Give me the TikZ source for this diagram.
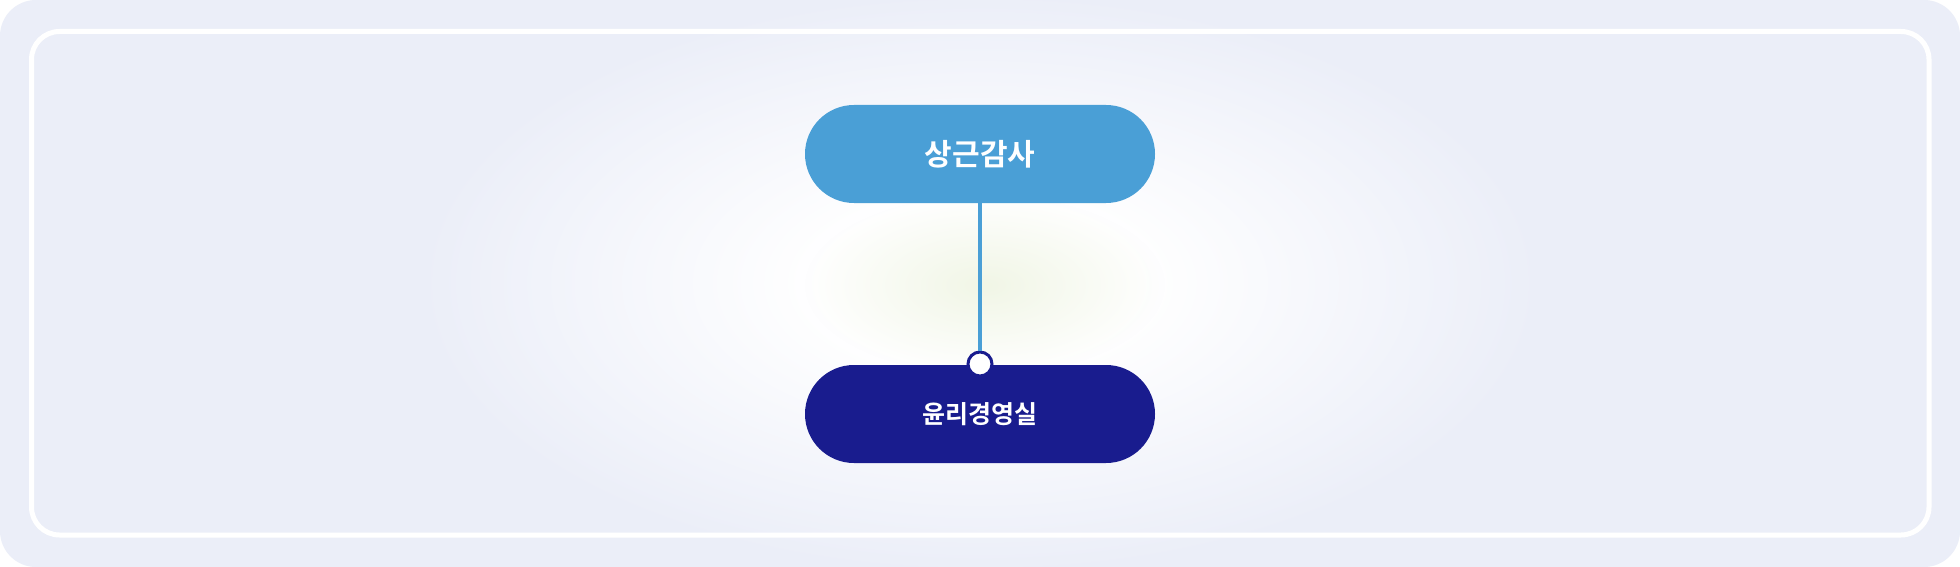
\documentclass[tikz,border=0pt]{standalone}
\usepackage{fontspec}
\newfontfamily\kr{Noto Sans CJK KR Bold}
\usetikzlibrary{fadings}
\definecolor{bgc}{HTML}{EBEEF8}
\definecolor{topc}{HTML}{4A9FD6}
\definecolor{navyc}{HTML}{191C8E}
\definecolor{greenc}{HTML}{F1F6E6}
\pgfdeclareradialshading{glow}{\pgfpoint{0bp}{0bp}}{color(0bp)=(white); color(7bp)=(white); color(25bp)=(bgc); color(50bp)=(bgc)}
\tikzfading[name=softglow, inner color=transparent!0, outer color=transparent!100]
\tikzset{
  box/.style={rectangle, rounded corners=49pt, minimum width=350pt, minimum height=98pt, inner sep=0pt, text=white},
  dotnode/.style={circle, draw=navyc, line width=3pt, fill=white, minimum size=24pt, inner sep=0pt},
  link/.style={draw=topc, line width=4pt}
}
\begin{document}
\begin{tikzpicture}[x=1pt,y=-1pt]
\useasboundingbox (0,0) rectangle (1960,567);
\fill[white] (0,0) rectangle (1960,567);
\fill[bgc, rounded corners=36pt] (0,0) rectangle (1960,567);
\shade[shading=glow] (980,283) ellipse [x radius=560, y radius=290];
\fill[greenc, path fading=softglow] (985,285) ellipse [x radius=180, y radius=90];
\draw[white, line width=5pt, rounded corners=28pt] (31.5,31.5) rectangle (1929,535);
\node[box, fill=topc] (top) at (980,154) {\kr\fontsize{30pt}{36pt}\selectfont 상근감사};
\node[box, fill=navyc] (bot) at (980,414) {\kr\fontsize{25pt}{30pt}\selectfont 윤리경영실};
\node[dotnode] (dot) at (980,364) {};
\draw[link] (top.south) -- (dot.north);
\end{tikzpicture}
\end{document}
